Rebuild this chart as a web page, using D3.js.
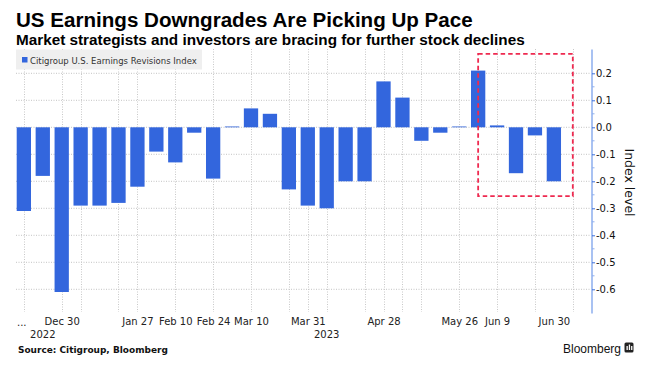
<!DOCTYPE html>
<html><head><meta charset="utf-8">
<script src="https://cdn.jsdelivr.net/npm/d3@7"></script>
<style>body{margin:0;background:#fff}svg{display:block}</style>
</head><body>
<svg id="c" width="647" height="368"></svg>
<script>
// ---- data ----
const weeks = ["2022-12-16","2022-12-23","2022-12-30","2023-01-06","2023-01-13","2023-01-20","2023-01-27","2023-02-03","2023-02-10","2023-02-17","2023-02-24","2023-03-03","2023-03-10","2023-03-17","2023-03-24","2023-03-31","2023-04-07","2023-04-14","2023-04-21","2023-04-28","2023-05-05","2023-05-12","2023-05-19","2023-05-26","2023-06-02","2023-06-09","2023-06-16","2023-06-23","2023-06-30"];
const values = [-0.31,-0.18,-0.61,-0.29,-0.29,-0.28,-0.22,-0.09,-0.13,-0.02,-0.19,0.003,0.07,0.05,-0.23,-0.29,-0.30,-0.20,-0.20,0.17,0.11,-0.05,-0.02,0.003,0.21,0.007,-0.17,-0.03,-0.20];
const tickLabels = ["2022-12-30","2023-01-27","2023-02-10","2023-02-24","2023-03-10","2023-03-31","2023-04-28","2023-05-26","2023-06-09","2023-06-30"];
const gridWeeks = ["2022-12-16","2022-12-30","2023-01-06","2023-01-20","2023-01-27","2023-02-10","2023-02-24","2023-03-10","2023-03-24","2023-03-31","2023-04-07","2023-04-21","2023-04-28","2023-05-05","2023-05-12","2023-05-26","2023-06-09","2023-06-23","2023-07-07"];
const yearLabels = [["2022-12-23","2022"],["2023-04-07","2023"]];
const yTicks = [0.2,0.1,0.0,-0.1,-0.2,-0.3,-0.4,-0.5,-0.6];
const highlight = {from:"2023-06-02", to:"2023-07-07", top:0.272, bottom:-0.255};

const P = s => new Date(s + "T00:00:00Z");
const svg = d3.select("#c");
const FONT = "DejaVu Sans, Verdana, sans-serif";

const pL = 16, pR = 592, pT = 49, pB = 312;
const x = d3.scaleUtc().domain([P("2022-12-16"), P("2023-07-07")]).range([23.85, 572.8]);
const y = d3.scaleLinear().domain([0.2, -0.6]).range([73.3, 289.3]);
const step = x(P("2022-12-23")) - x(P("2022-12-16"));
const bw = step * 0.755;

function fit(sel, w){
  const cur = sel.node().getComputedTextLength();
  const fs = parseFloat(sel.attr("font-size"));
  if (cur > 0) sel.attr("font-size", (fs * w / cur).toFixed(2));
}

// titles
const t1 = svg.append("text").attr("x", 16).attr("y", 27).attr("font-family","Liberation Sans, Arial, sans-serif")
  .attr("font-weight","bold").attr("font-size",21).attr("fill","#000").text("US Earnings Downgrades Are Picking Up Pace");
fit(t1, 457);
const t2 = svg.append("text").attr("x", 16).attr("y", 44.5).attr("font-family","Liberation Sans, Arial, sans-serif")
  .attr("font-weight","bold").attr("font-size",15).attr("fill","#000").text("Market strategists and investors are bracing for further stock declines");
fit(t2, 509);

// grid
const grid = svg.append("g");
grid.selectAll("line.h").data(yTicks).join("line").attr("class","h")
  .attr("x1", pL).attr("x2", pR).attr("y1", d => y(d)).attr("y2", d => y(d))
  .attr("stroke","#c4c4c4").attr("stroke-width",1).attr("stroke-dasharray","1,1.5");
grid.selectAll("line.v").data(gridWeeks).join("line").attr("class","v")
  .attr("x1", d => Math.round(x(P(d))) + 0.5).attr("x2", d => Math.round(x(P(d))) + 0.5)
  .attr("y1", pT).attr("y2", pB)
  .attr("stroke","#c8c8c8").attr("stroke-width",1).attr("stroke-dasharray","1,1.5");

// legend
svg.append("rect").attr("x",16).attr("y",49.5).attr("width",186).attr("height",20).attr("fill","#efefef");
svg.append("rect").attr("x",22).attr("y",57).attr("width",5.5).attr("height",5.5).attr("fill","#3366dd");
const lt = svg.append("text").attr("x",30).attr("y",63.5).attr("font-family",FONT).attr("font-size",9.5)
  .attr("fill","#333").text("Citigroup U.S. Earnings Revisions Index");
fit(lt, 167);

// bars
svg.append("g").selectAll("rect").data(weeks.map((w,i)=>({w, v: values[i]}))).join("rect")
  .attr("x", d => x(P(d.w)) - bw/2)
  .attr("width", bw)
  .attr("y", d => Math.min(y(d.v), y(0)))
  .attr("height", d => Math.max(0.8, Math.abs(y(d.v) - y(0))))
  .attr("fill", "#3366dd");

// highlight box
svg.append("rect")
  .attr("x", x(P(highlight.from))).attr("y", y(highlight.top))
  .attr("width", x(P(highlight.to)) - x(P(highlight.from)))
  .attr("height", y(highlight.bottom) - y(highlight.top))
  .attr("fill","none").attr("stroke","#ee2a50").attr("stroke-width",1.8).attr("stroke-dasharray","4.5,3");

// x axis labels
const xa = svg.append("g").attr("transform",`translate(0,${pB - 2})`)
  .call(d3.axisBottom(x).tickValues(tickLabels.map(P)).tickFormat(d3.utcFormat("%b %-d")).tickSize(0).tickPadding(8));
xa.select(".domain").remove();
xa.selectAll("text").attr("font-family",FONT).attr("font-size",10).attr("fill","#222");
svg.append("text").attr("x",17).attr("y",326).attr("font-family",FONT).attr("font-size",10).attr("fill","#222").text("...");
svg.selectAll("text.year").data(yearLabels).join("text").attr("class","year")
  .attr("x", d => x(P(d[0]))).attr("y", 338).attr("text-anchor","middle")
  .attr("font-family",FONT).attr("font-size",10).attr("fill","#222").text(d => d[1]);

// y axis on the right
svg.append("line").attr("x1",pR).attr("x2",pR).attr("y1",y(0.288)).attr("y2",y(-0.69))
  .attr("stroke","#a9c2f2").attr("stroke-width",2);
const ya = svg.append("g").attr("transform",`translate(${pR},0)`)
  .call(d3.axisRight(y).tickValues(yTicks).tickFormat(d => d3.format(".1f")(d).replace("−","-")).tickSize(3).tickPadding(1));
ya.select(".domain").remove();
ya.selectAll(".tick line").attr("stroke","#3d6fd9");
ya.selectAll("text").attr("font-family",FONT).attr("font-size",10).attr("fill","#111");
svg.append("g").selectAll("line").data(yTicks.slice(0,-1).map(d => d - 0.05)).join("line")
  .attr("x1",pR).attr("x2",pR+2.5).attr("y1",d=>y(d)).attr("y2",d=>y(d))
  .attr("stroke","#8fb0ee").attr("stroke-width",1);
svg.append("text").attr("transform",`translate(625,182.5) rotate(90)`).attr("text-anchor","middle")
  .attr("font-family",FONT).attr("font-size",12.5).attr("fill","#111").text("Index level");

// footer
const src = svg.append("text").attr("x",18).attr("y",353).attr("font-family",FONT).attr("font-weight","bold")
  .attr("font-size",9.5).attr("fill","#111").text("Source: Citigroup, Bloomberg");
fit(src, 150);
const bl = svg.append("text").attr("x",563).attr("y",352.5).attr("font-family","Liberation Sans, Arial, sans-serif")
  .attr("font-size",13).attr("fill","#111").text("Bloomberg");
fit(bl, 58);
svg.append("rect").attr("x",624.5).attr("y",342.5).attr("width",9).attr("height",10).attr("rx",1.5).attr("fill","#222");
[626.5,628.8,631.1].forEach((px,i)=>{
  svg.append("rect").attr("x",px).attr("y",i===1?344.5:346).attr("width",1.3).attr("height",i===1?5.5:4).attr("fill","#fff");
});
</script>
</body></html>
